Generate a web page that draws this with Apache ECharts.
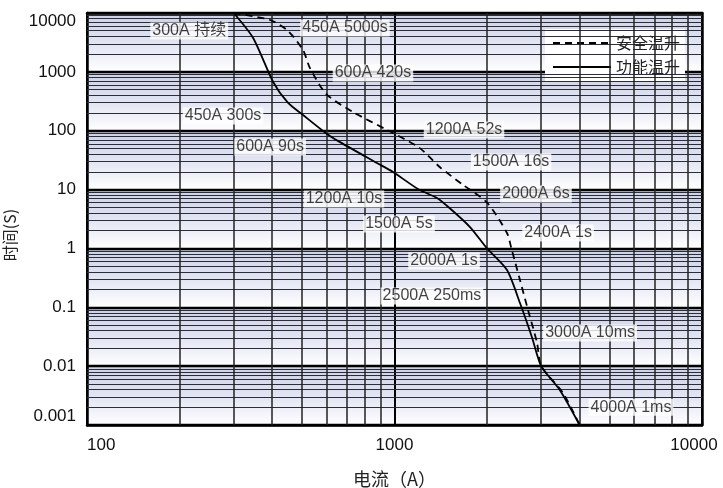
<!DOCTYPE html>
<html>
<head>
<meta charset="utf-8">
<script src="https://cdn.jsdelivr.net/npm/echarts@6/dist/echarts.min.js"></script>
<style>
html,body{margin:0;padding:0;background:#fff;}
#chart{width:723px;height:488px;}
</style>
</head>
<body>
<div id="chart"></div>
<script>
// 安全温升 (dashed)
const currentSafe = [300, 394, 450, 504, 531, 600, 733, 945, 1200, 1406, 1671, 2000, 2322, 2400, 2559, 2718, 2907, 3000, 3532, 4000];
const timeSafe    = [10000, 7600, 5000, 2350, 1160, 420, 208, 103, 52, 24, 12, 6, 1.83, 1, 0.29, 0.09, 0.025, 0.01, 0.0035, 0.001];
// 功能温升 (solid)
const currentFunc = [300, 347, 403, 450, 504, 600, 665, 877, 989, 1200, 1374, 1500, 1760, 2000, 2322, 2559, 2799, 3000, 3451, 4000];
const timeFunc    = [10000, 3760, 673, 300, 185, 90, 64, 28.3, 19.9, 10, 7.2, 5, 2.31, 1, 0.43, 0.118, 0.031, 0.01, 0.0039, 0.001];
// annotations
const labelText    = ['300A 持续','450A 5000s','600A 420s','450A 300s','600A 90s','1200A 52s','1500A 16s','2000A 6s','1200A 10s','1500A 5s','2400A 1s','2000A 1s','2500A 250ms','3000A 10ms','4000A 1ms'];
const labelCurrent = [215, 690, 851, 277, 394, 1683, 2393, 2884, 685, 1034, 3404, 1449, 1324, 4325, 5875];
const labelTime    = [4950, 5560, 957, 178, 52.9, 103, 29.4, 8.4, 6.9, 2.6, 1.83, 0.61, 0.156, 0.0366, 0.002];
// axis
const xMin = 100, xMax = 10000, yMin = 0.001, yMax = 10000;
const seriesNames = ['安全温升', '功能温升'];
const xName = '电流（A）', yName = '时间(S)';

const fmt = v => String(Number(v.toPrecision(6)));
const fmtX = v => {
  const s = fmt(v);
  return Number(s) === xMax ? '{m|' + s + '}' : s;
};
const latin = 'Liberation Sans, Arial, sans-serif';
const cjk = 'Noto Sans CJK SC, sans-serif';

// grid decoration (log minor lines)
const hLines = [], vLines = [];
for (let k = -3; k <= 3; k++) {
  const base = Math.pow(10, k);
  for (let m = 2; m <= 9; m++) hLines.push({ yAxis: Number((m * base).toPrecision(6)) });
}
for (let k = 2; k <= 3; k++) {
  const base = Math.pow(10, k);
  for (let m = 2; m <= 9; m++) vLines.push({ xAxis: m * base });
}
const bandFill = { type: 'linear', x: 0, y: 0, x2: 0, y2: 1,
  colorStops: [ { offset: 0, color: '#cdd1e5' }, { offset: 0.5, color: '#e1e4f2' }, { offset: 1, color: '#ffffff' } ] };

const chart = echarts.init(document.getElementById('chart'));
chart.setOption({
  animation: false,
  backgroundColor: '#fff',
  grid: { left: 87, right: 21, top: 13, bottom: 63, outerBoundsMode: 'none', containLabel: false },
  legend: {
    data: seriesNames,
    orient: 'vertical',
    right: 38, top: 29,
    itemWidth: 58, itemHeight: 14, itemGap: 8,
    padding: [6, 5, 6, 7],
    backgroundColor: '#fff',
    itemStyle: { opacity: 0 },
    textStyle: { fontSize: 16, color: '#222', fontFamily: cjk }
  },
  xAxis: [{
    type: 'log', logBase: 10, min: xMin, max: xMax, z: 3,
    name: xName, nameLocation: 'middle', nameGap: 45,
    nameTextStyle: { fontSize: 18, color: '#222', fontFamily: cjk },
    axisLine: { lineStyle: { color: '#000', width: 2.5 } },
    axisTick: { show: false },
    axisLabel: { formatter: fmtX, fontSize: 17, color: '#111', fontFamily: latin, margin: 12, alignMinLabel: 'left',
                 rich: { m: { fontSize: 17, color: '#111', fontFamily: latin, padding: [0, 16, 0, 0] } } },
    splitLine: { show: true, lineStyle: { color: '#000', width: 2 } },
    minorTick: { show: false }, minorSplitLine: { show: false }
  }, {
    type: 'log', logBase: 10, min: xMin, max: xMax, position: 'top', z: 3,
    axisLine: { lineStyle: { color: '#000', width: 2.5 } },
    axisTick: { show: false }, axisLabel: { show: false }, splitLine: { show: false }
  }],
  yAxis: [{
    type: 'log', logBase: 10, min: yMin, max: yMax, z: 3,
    name: yName, nameLocation: 'middle', nameGap: 58, nameRotate: 90,
    nameTextStyle: { fontSize: 16, color: '#222', fontFamily: cjk, padding: [0, 32, 0, 0] },
    axisLine: { lineStyle: { color: '#000', width: 2.5 } },
    axisTick: { show: false },
    axisLabel: { formatter: fmt, fontSize: 17, color: '#111', fontFamily: latin, margin: 11,
                 verticalAlignMinLabel: 'bottom', verticalAlignMaxLabel: 'top' },
    splitLine: { show: true, lineStyle: { color: '#000', width: 2.4 } },
    splitArea: { show: true, areaStyle: { color: [bandFill] } }
  }, {
    type: 'log', logBase: 10, min: yMin, max: yMax, position: 'right', z: 3,
    axisLine: { lineStyle: { color: '#000', width: 2.5 } },
    axisTick: { show: false }, axisLabel: { show: false }, splitLine: { show: false }
  }],
  series: [
    {
      name: '_grid', type: 'line', data: [], silent: true, z: 1,
      markLine: {
        silent: true, symbol: ['none', 'none'], label: { show: false },
        animation: false, precision: 8,
        lineStyle: { color: '#2b2d3a', width: 1, type: 'solid' },
        data: hLines.concat(vLines.map(d => Object.assign({ lineStyle: { color: '#222', width: 1.5, type: 'solid' } }, d)))
      }
    },
    {
      name: seriesNames[0], type: 'line', z: 5,
      data: currentSafe.map((x, i) => [x, timeSafe[i]]),
      smooth: 0.25, showSymbol: false, symbol: 'none',
      lineStyle: { color: '#000', width: 1.8, type: [7, 5] },
      itemStyle: { color: '#000' }
    },
    {
      name: seriesNames[1], type: 'line', z: 5,
      data: currentFunc.map((x, i) => [x, timeFunc[i]]),
      smooth: 0.25, showSymbol: false, symbol: 'none',
      lineStyle: { color: '#000', width: 1.8, type: 'solid' },
      itemStyle: { color: '#000' }
    },
    {
      name: '_labels', type: 'scatter', z: 10, silent: true,
      symbolSize: 1, itemStyle: { color: 'rgba(0,0,0,0)' },
      data: labelText.map((t, i) => ({ name: t, value: [labelCurrent[i], labelTime[i]] })),
      label: {
        show: true, position: 'inside', formatter: '{b}',
        fontSize: 16, color: '#111', fontFamily: 'Liberation Sans, Noto Sans CJK SC, sans-serif',
        backgroundColor: '#fff', padding: [1, 2, 0, 2]
      }
    }
  ]
});
</script>
</body>
</html>
